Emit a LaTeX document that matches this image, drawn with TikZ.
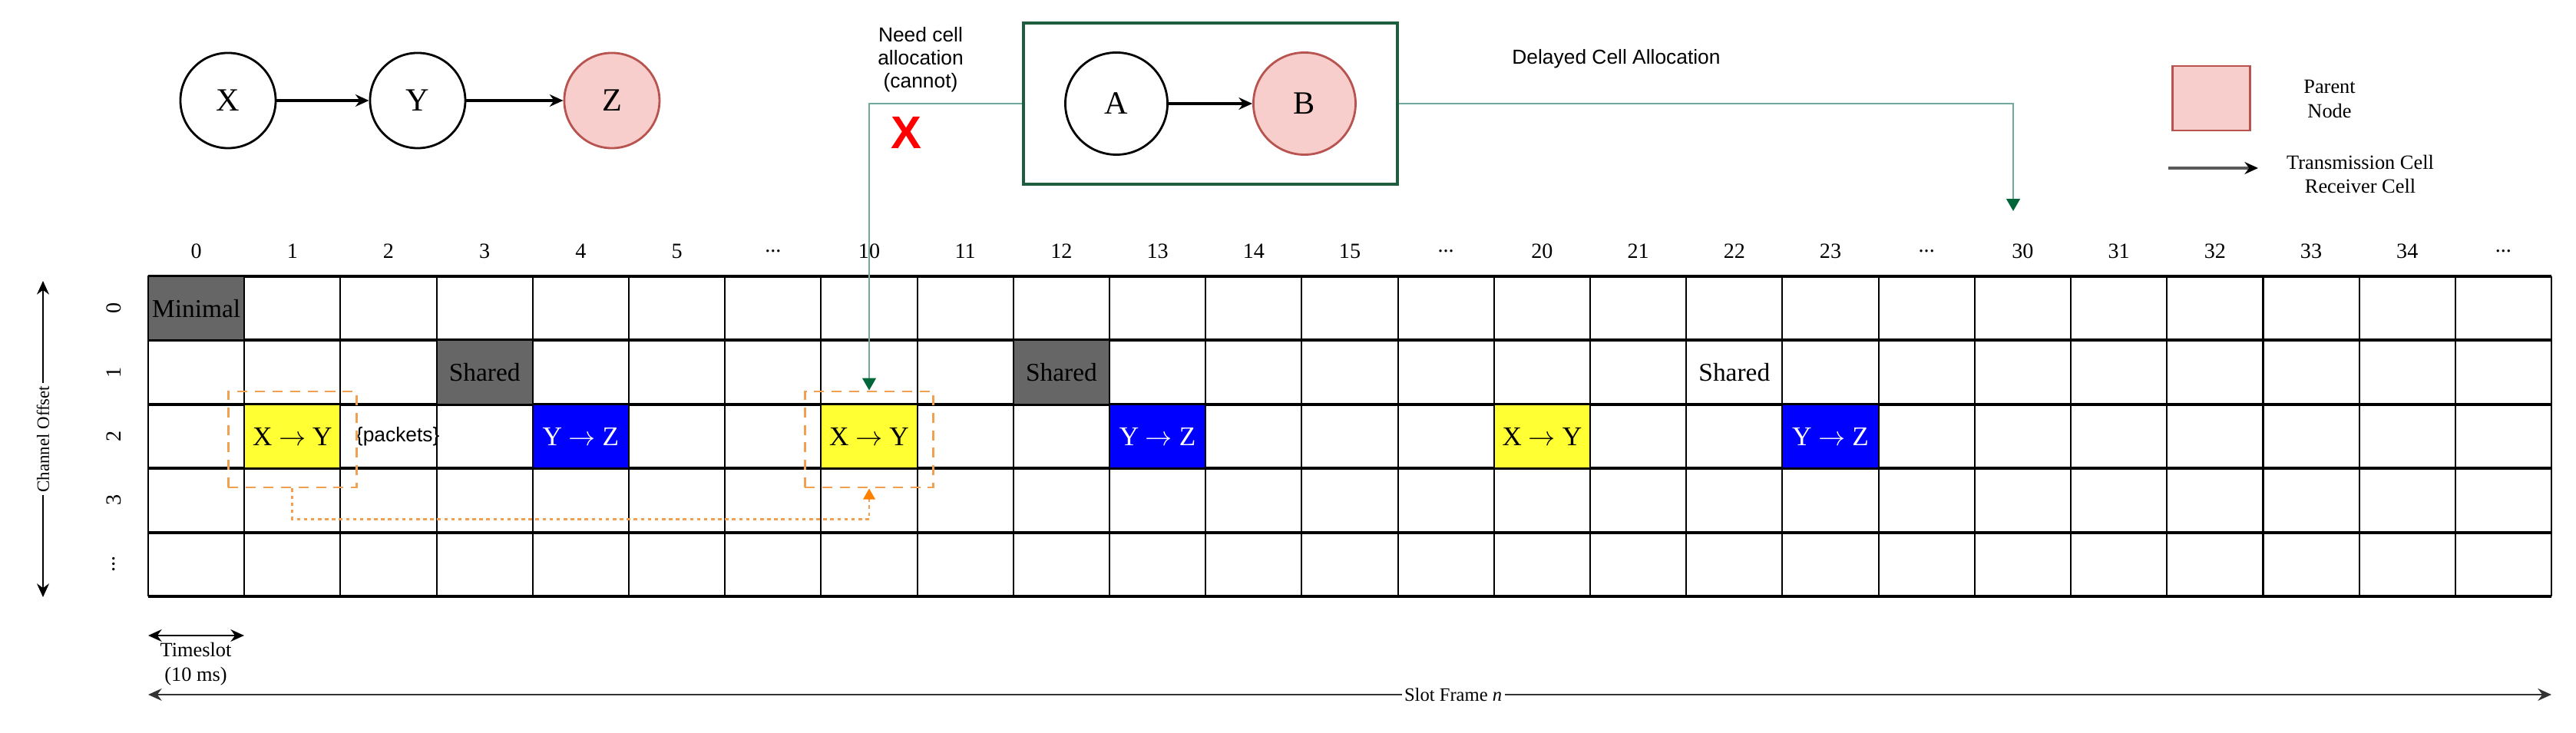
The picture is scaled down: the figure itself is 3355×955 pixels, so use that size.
\documentclass[tikz,border=0pt]{standalone}
\usepackage{fontspec}
\setmainfont{Liberation Serif}
\newfontfamily\notefont{Liberation Sans}
\usepackage{xcolor}
\usepackage{tikz}
\usetikzlibrary{positioning, arrows.meta, fit}

\definecolor{parentpink}{HTML}{F8CECC}
\definecolor{parentred}{HTML}{B85450}
\definecolor{boxgreen}{HTML}{1E5E3E}
\definecolor{linkteal}{HTML}{6FAA9C}
\definecolor{tipgreen}{HTML}{00663A}
\definecolor{holdorange}{HTML}{F0A050}
\definecolor{tiporange}{HTML}{FF8000}
\definecolor{cellgray}{HTML}{666666}
\definecolor{txyellow}{HTML}{FFFF33}

\newcommand{\skipdots}{...}

\begin{document}
\begin{tikzpicture}[x=0.01cm, y=0.01cm,
        devnode/.style={circle, draw, line width=0.8pt, minimum size=1.24cm, inner sep=0pt, font=\fontsize{12}{14}\selectfont},
        parent/.style={devnode, fill=parentpink, draw=parentred},
        link/.style={-{Stealth[length=5pt, width=4.5pt]}, line width=0.9pt},
        sched/.style={minimum width=1.252cm, minimum height=0.834cm, inner sep=0pt, draw=black, line width=0.6pt, font=\fontsize{9.5}{11}\selectfont},
        minimal/.style={sched, fill=cellgray},
        txcell/.style={sched, fill=txyellow, font=\fontsize{10}{12}\selectfont},
        rxcell/.style={sched, fill=blue, text=white, font=\fontsize{10}{12}\selectfont},
        hold/.style={draw=holdorange, dash pattern=on 3.7pt off 2.8pt, line width=0.8pt, minimum width=1.67cm, minimum height=1.25cm, inner sep=0pt},
        note/.style={font=\notefont\fontsize{7.5}{8.5}\selectfont, align=center},
        legendtext/.style={font=\fontsize{7.5}{9}\selectfont, align=center},
        idx/.style={font=\fontsize{8}{9}\selectfont},
        span/.style={{Stealth[length=5pt, width=4.5pt]}-{Stealth[length=5pt, width=4.5pt]}, line width=0.8pt},
        delay/.style={linkteal, line width=0.6pt, -{Triangle[length=4.5pt, width=5pt, color=tipgreen]}}
    ]
    \useasboundingbox (0,0) rectangle (3355,955);

    % slot frame grid
    \foreach \c in {0,...,24}
        \foreach \r in {0,...,4}
            \coordinate (c\c-\r) at ({193+(\c+0.5)*125.2},{595-(\r+0.5)*83.4});
    \foreach \c in {0,...,25}
        \draw[line width=0.6pt] ({193+\c*125.2},595) -- ({193+\c*125.2},178);
    \foreach \r in {0,...,5}
        \draw[line width=1.1pt] (193,{595-\r*83.4}) -- (3323,{595-\r*83.4});

    \foreach \lab [count=\c from 0] in {0,1,2,3,4,5,\skipdots,10,11,12,13,14,15,\skipdots,20,21,22,23,\skipdots,30,31,32,33,34,\skipdots}
        \node[idx] (col\c) at ({193+(\c+0.5)*125.2},628) {\lab};
    \foreach \lab [count=\r from 0] in {0,1,2,3,\skipdots}
        \node[idx, rotate=90] (row\r) at (148,{595-(\r+0.5)*83.4}) {\lab};

    % scheduled cells
    \node[minimal] (minimal) at (c0-0) {Minimal};
    \node[minimal] (shared1) at (c3-1) {Shared};
    \node[minimal] (shared2) at (c9-1) {Shared};
    \node[sched, draw=none] (shared3) at (c16-1) {Shared};
    \node[txcell] (xy1) at (c1-2) {X $\rightarrow$ Y};
    \node[txcell] (xy2) at (c7-2) {X $\rightarrow$ Y};
    \node[txcell] (xy3) at (c14-2) {X $\rightarrow$ Y};
    \node[rxcell] (yz1) at (c4-2) {Y $\rightarrow$ Z};
    \node[rxcell] (yz2) at (c10-2) {Y $\rightarrow$ Z};
    \node[rxcell] (yz3) at (c17-2) {Y $\rightarrow$ Z};
    \node[note, right=2pt of xy1] (packets) {\{packets\}};

    \node[hold, yshift=-0.04cm] (buf1) at (c1-2) {};
    \node[hold, yshift=-0.04cm] (buf2) at (c7-2) {};
    \draw[holdorange, dash pattern=on 1.3pt off 1.3pt, line width=0.8pt, -{Triangle[length=4pt, width=4.3pt, color=tiporange]}]
        (buf1.south) -- ++(0,-40) -| (buf2.south);

    % topology
    \node[devnode] (X) at (297,824) {X};
    \node[devnode, right=1.2cm of X] (Y) {Y};
    \node[parent, right=1.26cm of Y] (Z) {Z};
    \draw[link] (X) -- (Y);
    \draw[link] (Y) -- (Z);

    \node[devnode, minimum size=1.33cm] (A) at (1454,820) {A};
    \node[parent, minimum size=1.33cm, right=1.09cm of A] (B) {B};
    \draw[link] (A) -- (B);
    \node[draw=boxgreen, line width=0.9pt, fit=(A)(B), inner xsep=0.53cm, inner ysep=0.37cm] (grp) {};

    \node[note] (need) at (1199,877) {Need cell\\allocation\\(cannot)};
    \node[text=red, font=\notefont\bfseries\fontsize{17}{17}\selectfont] (nope) at (1180,782) {X};
    \draw[delay] (grp.west) -| (buf2.north);
    \coordinate (late) at (2622,680);
    \draw[delay] (grp.east) -| (late);
    \node[note] (delaytxt) at (2105,878) {Delayed Cell Allocation};

    % legend
    \node[draw=parentred, fill=parentpink, line width=0.8pt, minimum width=1.01cm, minimum height=0.84cm] (keyparent) at (2880,827) {};
    \node[legendtext] (keyparenttxt) at (3034,826) {Parent\\Node};
    \coordinate (keyfrom) at (2824,736);
    \coordinate (keyto) at (2941,736);
    \draw[black!65, line width=1pt, -{Stealth[length=5pt, width=4.5pt, color=black]}] (keyfrom) -- (keyto);
    \node[legendtext] (keytxt) at (3074,728) {Transmission Cell\\Receiver Cell};

    % axes
    \coordinate (chtop) at (56,589);
    \coordinate (chbot) at (56,177);
    \draw[span] (chtop) -- (chbot) node[midway, fill=white, rotate=90, inner sep=1pt, font=\fontsize{6.5}{8}\selectfont] (chlab) {Channel Offset};
    \coordinate (tsl) at (193,127);
    \coordinate (tsr) at (318,127);
    \draw[span] (tsl) -- (tsr);
    \node[legendtext] (tslab) at (255,90) {Timeslot\\(10 ms)};
    \coordinate (sfl) at (193,50);
    \coordinate (sfr) at (3323,50);
    \draw[span, black!80] (sfl) -- (sfr) node[pos=0.543, fill=white, inner sep=1pt, text=black, font=\fontsize{7}{8}\selectfont] (sflab) {Slot Frame \textit{n}};
\end{tikzpicture}
\end{document}
